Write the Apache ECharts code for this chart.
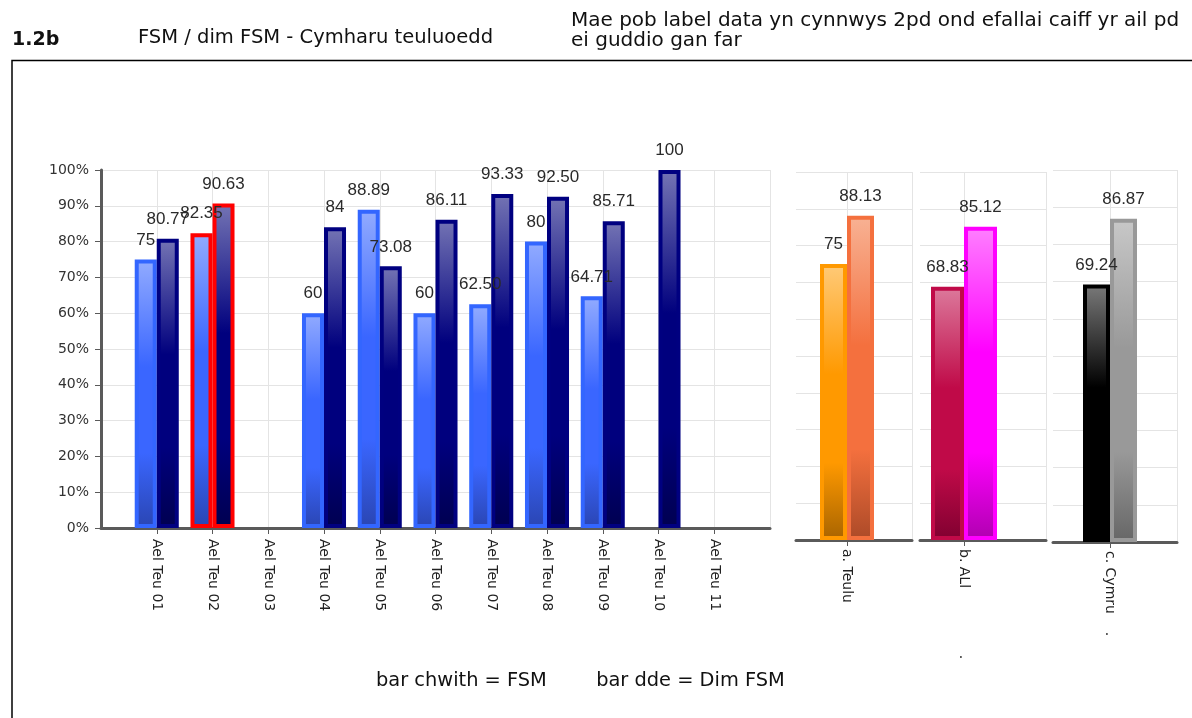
<!DOCTYPE html>
<html><head><meta charset="utf-8">
<script src="https://cdn.jsdelivr.net/npm/echarts@6/dist/echarts.min.js"></script>
<style>html,body{margin:0;padding:0;background:#fff}#c{width:1192px;height:718px}</style>
</head><body><div id="c"></div>
<script>
// ---- data ----
const categories = ['Ael Teu 01','Ael Teu 02','Ael Teu 03','Ael Teu 04','Ael Teu 05','Ael Teu 06','Ael Teu 07','Ael Teu 08','Ael Teu 09','Ael Teu 10','Ael Teu 11'];
const fsm    = [75, 82.35, null, 60, 88.89, 60, 62.5, 80, 64.71, null, null];
const dimFsm = [80.77, 90.63, null, 84, 73.08, 86.11, 93.33, 92.5, 85.71, 100, null];
const highlightCategory = 'Ael Teu 02';
const compareCategories = ['a. Teulu', 'b. ALl               .', 'c. Cymru    .'];
const compareFsm = [75, 68.83, 69.24];
const compareDim = [88.13, 85.12, 86.87];
const titleCode = '1.2b';
const titleText = 'FSM / dim FSM - Cymharu teuluoedd';
const noteText = 'Mae pob label data yn cynnwys 2pd ond efallai caiff yr ail pd\nei guddio gan far';
const legendText = 'bar chwith = FSM        bar dde = Dim FSM';

// ---- styles / layout ----
function grad(c0, c1, c2) {
  return {type:'linear', x:0, y:0, x2:0, y2:1, colorStops:[
    {offset:0, color:c0},{offset:0.4, color:c1},{offset:0.72, color:c1},{offset:1, color:c2}]};
}
const mainFsmStyle = {color: grad('#92abff','#3a66ff','#2a45b2'), borderColor:'#3366ff', borderWidth:4};
const mainDimStyle = {color: grad('#7474b4','#00007e','#000050'), borderColor:'#000080', borderWidth:4};
const panelStyles = [
  {f:{color:grad('#ffca78','#ff9900','#a86400'), borderColor:'#ff9900', borderWidth:4},
   d:{color:grad('#f8b294','#f4703e','#ac4a28'), borderColor:'#f4703e', borderWidth:4}},
  {f:{color:grad('#dc7a9c','#c00a48','#800030'), borderColor:'#c00a48', borderWidth:4},
   d:{color:grad('#ff80ff','#ff00ff','#b000b0'), borderColor:'#ff00ff', borderWidth:4}},
  {f:{color:grad('#7a7a7a','#000000','#000000'), borderColor:'#000000', borderWidth:4},
   d:{color:grad('#c8c8c8','#999999','#666666'), borderColor:'#999999', borderWidth:4}}
];
const panels = [
  {left:796, right:912, center:847, top:172, bottom:540, bw:27},
  {left:920, right:1046, center:964, top:172, bottom:540, bw:33},
  {left:1053, right:1177, center:1110, top:170, bottom:542, bw:27}
];
const W = 1192, H = 718;
const gridColor = '#e4e4e4', axisColor = '#5a5a5a';
const SANS = 'DejaVu Sans, Verdana, sans-serif';
const ARIAL = 'Liberation Sans, Arial, sans-serif';
const fmt = v => (v == null ? '' : (Number.isInteger(v) ? String(v) : v.toFixed(2)));
const labelStyle = {show:true, position:'top', distance:11, fontSize:17, fontFamily:ARIAL, color:'#2a2a2a',
  formatter: p => fmt(p.value)};

const padded = arr => [null, ...arr, null];
const paddedCats = ['', ...categories, ''];

const grids = [{left:101, right:W-770, top:170, bottom:H-528, containLabel:false}];
const xAxes = [{
  type:'category', gridIndex:0, data:paddedCats, boundaryGap:false,
  axisLine:{show:true, lineStyle:{color:axisColor, width:3}},
  axisTick:{show:true, length:6, interval:(i,v)=>v!=='', lineStyle:{color:axisColor}},
  axisLabel:{rotate:-90, interval:0, margin:11, fontSize:14, fontFamily:SANS, color:'#222'},
  splitLine:{show:true, lineStyle:{color:gridColor}}
}];
const yAxes = [{
  type:'value', gridIndex:0, min:0, max:100, interval:10,
  axisLine:{show:true, lineStyle:{color:axisColor, width:3}},
  axisTick:{show:true, length:6, lineStyle:{color:axisColor}},
  axisLabel:{formatter:'{value}%', fontSize:14, fontFamily:SANS, color:'#333', margin:12},
  splitLine:{show:true, lineStyle:{color:gridColor}}
}];
const series = [
  {type:'bar', xAxisIndex:0, yAxisIndex:0, barGap:'0%', barCategoryGap:'21%', itemStyle:mainFsmStyle, label:labelStyle,
   data: padded(fsm).map((v,i)=> paddedCats[i]===highlightCategory ? {value:v, itemStyle:{borderColor:'#ff0000', borderWidth:4}} : v)},
  {type:'bar', xAxisIndex:0, yAxisIndex:0, barGap:'0%', barCategoryGap:'21%', itemStyle:mainDimStyle, label:labelStyle,
   data: padded(dimFsm).map((v,i)=> paddedCats[i]===highlightCategory ? {value:v, itemStyle:{borderColor:'#ff0000', borderWidth:4}} : v)}
];

// background grids for comparison panels (gridlines + baseline)
panels.forEach((p, k) => {
  const gi = grids.length;
  grids.push({left:p.left, right:W-p.right, top:p.top, bottom:H-p.bottom});
  xAxes.push({type:'value', gridIndex:gi, min:0, max:1, interval:1,
    axisLine:{show:true, onZero:false, lineStyle:{color:axisColor, width:3}}, axisTick:{show:false}, axisLabel:{show:false},
    splitLine:{show:true, showMinLine:false, lineStyle:{color:gridColor}}});
  yAxes.push({type:'value', gridIndex:gi, min:0, max:100, interval:10,
    axisLine:{show:false}, axisTick:{show:false}, axisLabel:{show:false},
    splitLine:{show:true, lineStyle:{color:gridColor}}});
});
// bar grids for comparison panels
panels.forEach((p, k) => {
  const gi = grids.length;
  const w = 2*(p.center - p.left);
  grids.push({left:p.left, width:w, top:p.top, bottom:H-p.bottom});
  xAxes.push({type:'category', gridIndex:gi, data:['', compareCategories[k], ''], boundaryGap:false,
    axisLine:{show:false}, axisTick:{show:true, length:6, interval:(i,v)=>v!=='', lineStyle:{color:axisColor}},
    axisLabel:{rotate:-90, interval:0, margin:9, fontSize:14, fontFamily:SANS, color:'#222'},
    splitLine:{show:true, interval:(i,v)=>v!=='', lineStyle:{color:gridColor}}});
  yAxes.push({type:'value', gridIndex:gi, min:0, max:100, show:false, splitLine:{show:false}});
  series.push({type:'bar', xAxisIndex:xAxes.length-1, yAxisIndex:yAxes.length-1, barGap:'0%', barWidth:p.bw,
    itemStyle:panelStyles[k].f, label:labelStyle, data:[null, compareFsm[k], null], z:3});
  series.push({type:'bar', xAxisIndex:xAxes.length-1, yAxisIndex:yAxes.length-1, barGap:'0%', barWidth:p.bw,
    itemStyle:panelStyles[k].d, label:labelStyle, data:[null, compareDim[k], null], z:3});
});

const chart = echarts.init(document.getElementById('c'), null, {renderer:'canvas'});
chart.setOption({
  animation:false,
  backgroundColor:'#fff',
  title:[
    {text:titleCode, left:7, top:26, textStyle:{fontSize:19, fontWeight:'bold', fontFamily:SANS, color:'#111'}},
    {text:titleText, left:133, top:23, textStyle:{fontSize:19.5, fontWeight:'normal', fontFamily:SANS, color:'#111'}},
    {text:noteText, left:566, top:6, textStyle:{fontSize:20, fontWeight:'normal', lineHeight:20, fontFamily:SANS, color:'#111'}},
    {text:legendText, left:371, top:666, textStyle:{fontSize:19.4, fontWeight:'normal', fontFamily:SANS, color:'#111'}}
  ],
  graphic:[{type:'polyline', silent:true, shape:{points:[[12,H],[12,60.5],[W,60.5]]}, style:{stroke:'#000', lineWidth:1.5, fill:null}}],
  grid:grids, xAxis:xAxes, yAxis:yAxes, series:series
});
</script></body></html>
